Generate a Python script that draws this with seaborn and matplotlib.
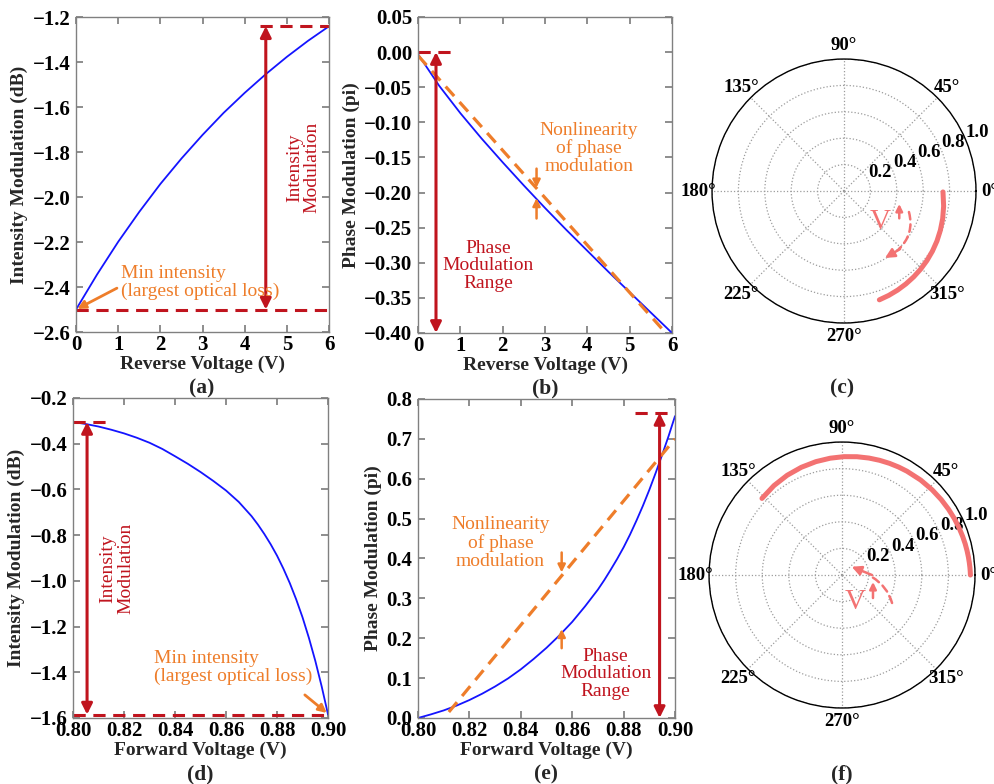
import numpy as np
import matplotlib
matplotlib.use("Agg")
import matplotlib.pyplot as plt
import seaborn as sns

# ---------------- data ----------------
# Reverse-bias sweep (panels a, b, c)
reverse_voltage = [0.0, 0.5, 1.0, 1.5, 2.0, 2.5, 3.0, 3.5, 4.0, 4.5, 5.0, 5.5, 6.0]
reverse_intensity_db = [-2.500, -2.344, -2.199, -2.066, -1.942, -1.829, -1.724,
                        -1.626, -1.537, -1.454, -1.377, -1.306, -1.241]
reverse_phase_pi = [-0.003, -0.048, -0.087, -0.123, -0.157, -0.190, -0.222,
                    -0.253, -0.283, -0.313, -0.342, -0.371, -0.400]
reverse_fit_voltage = [0.0, 6.0]
reverse_fit_phase = [-0.005, -0.410]

# Forward-bias sweep (panels d, e, f)
forward_voltage = [0.800, 0.805, 0.810, 0.815, 0.820, 0.825, 0.830, 0.835, 0.840,
                   0.845, 0.850, 0.855, 0.860, 0.865, 0.870, 0.8725, 0.875, 0.8775,
                   0.880, 0.8825, 0.885, 0.8875, 0.890, 0.8925, 0.895, 0.8975, 0.900]
forward_intensity_db = [-0.305, -0.314, -0.325, -0.339, -0.355, -0.374, -0.396,
                        -0.423, -0.455, -0.488, -0.524, -0.563, -0.605, -0.655,
                        -0.717, -0.754, -0.795, -0.840, -0.890, -0.947, -1.010,
                        -1.081, -1.160, -1.250, -1.350, -1.462, -1.585]
forward_phase_pi = [0.000, 0.009, 0.019, 0.031, 0.045, 0.061, 0.079, 0.099, 0.122,
                    0.148, 0.176, 0.207, 0.241, 0.280, 0.322, 0.346, 0.372, 0.399,
                    0.428, 0.460, 0.495, 0.532, 0.572, 0.615, 0.660, 0.707, 0.757]
forward_fit_voltage = [0.812, 0.900]
forward_fit_phase = [0.015, 0.700]

theta_labels = ["0°", "45°", "90°", "135°", "180°", "225°", "270°", "315°"]
radius_ticks = [0.2, 0.4, 0.6, 0.8, 1.0]

# ---------------- style ----------------
BLUE = "#1414ff"
RED = "#c0141e"
ORANGE = "#ee7d2a"
SALMON = "#f37272"
GRAY = "#808080"
DASH = (0, (4, 2.5))

sns.set_theme(style="ticks", rc={
    "axes.edgecolor": GRAY,
    "axes.linewidth": 1.0,
    "xtick.direction": "in",
    "ytick.direction": "in",
    "xtick.top": True,
    "ytick.right": True,
    "xtick.color": GRAY,
    "ytick.color": GRAY,
    "xtick.labelcolor": "black",
    "ytick.labelcolor": "black",
    "xtick.major.size": 5,
    "ytick.major.size": 5,
    "xtick.major.pad": 2.5,
    "ytick.major.pad": 4,
})
plt.rcParams["font.family"] = ["Liberation Serif", "DejaVu Serif"]
plt.rcParams["font.weight"] = "bold"
plt.rcParams["axes.labelweight"] = "bold"
plt.rcParams["axes.labelsize"] = 14
plt.rcParams["xtick.labelsize"] = 15
plt.rcParams["ytick.labelsize"] = 15

fig = plt.figure(figsize=(9.95, 7.84), dpi=100)

ax_a = fig.add_axes([0.0764, 0.5765, 0.2543, 0.4018])
ax_b = fig.add_axes([0.4201, 0.5753, 0.2553, 0.4031])
ax_d = fig.add_axes([0.0734, 0.0842, 0.2563, 0.4082])
ax_e = fig.add_axes([0.4201, 0.0842, 0.2583, 0.4069])
ax_c = fig.add_axes([0.7156, 0.5880, 0.2653, 0.3367], projection="polar")
ax_f = fig.add_axes([0.7126, 0.0969, 0.2673, 0.3393], projection="polar")


def note(ax, text, x, y, color, **kw):
    ax.text(x, y, text, color=color, fontsize=14, fontweight="normal",
            linespacing=1.05, **kw)


def double_arrow(ax, x, y0, y1):
    ax.annotate("", xy=(x, y1), xytext=(x, y0),
                arrowprops=dict(arrowstyle="<|-|>", color=RED, lw=2.2,
                                mutation_scale=16, shrinkA=0, shrinkB=0))


def small_arrow(ax, x0, y0, x1, y1, color=ORANGE, lw=1.8, scale=11):
    ax.annotate("", xy=(x1, y1), xytext=(x0, y0),
                arrowprops=dict(arrowstyle="-|>", color=color, lw=lw,
                                mutation_scale=scale, shrinkA=0, shrinkB=0))


# ---------------- (a) intensity vs reverse voltage ----------------
sns.lineplot(x=reverse_voltage, y=reverse_intensity_db, ax=ax_a, color=BLUE,
             lw=1.3, sort=False)
ax_a.set_xlim(0, 6)
ax_a.set_ylim(-2.6, -1.2)
ax_a.set_xticks(np.arange(0, 7, 1))
ax_a.set_yticks(np.arange(-2.6, -1.19, 0.2))
ax_a.hlines(reverse_intensity_db[0], 0, 6, colors=RED, lw=2.2, linestyles=DASH,
            clip_on=False)
ax_a.hlines(reverse_intensity_db[-1], 4.37, 6, colors=RED, lw=2.2, linestyles=DASH,
            clip_on=False)
double_arrow(ax_a, 4.5, reverse_intensity_db[0], reverse_intensity_db[-1])
note(ax_a, "Intensity\nModulation", 5.39, -1.87, RED, rotation=90,
     ha="center", va="center", multialignment="center")
note(ax_a, "Min intensity\n(largest optical loss)", 1.07, -2.378, ORANGE,
     ha="left", va="center")
small_arrow(ax_a, 0.97, -2.405, 0.03, -2.497, lw=2.0, scale=12)
ax_a.set_xlabel("Reverse Voltage (V)", labelpad=0)
ax_a.set_ylabel("Intensity Modulation (dB)", labelpad=3)

# ---------------- (b) phase vs reverse voltage ----------------
sns.lineplot(x=reverse_voltage, y=reverse_phase_pi, ax=ax_b, color=BLUE,
             lw=1.3, sort=False)
sns.lineplot(x=reverse_fit_voltage, y=reverse_fit_phase, ax=ax_b, color=ORANGE,
             lw=2.3, linestyle=DASH, sort=False)
ax_b.set_xlim(0, 6)
ax_b.set_ylim(-0.40, 0.05)
ax_b.set_xticks(np.arange(0, 7, 1))
ax_b.set_yticks(np.arange(-0.40, 0.051, 0.05))
ax_b.hlines(0.0, 0, 0.87, colors=RED, lw=2.2, linestyles=DASH)
double_arrow(ax_b, 0.425, -0.40, 0.0)
note(ax_b, "Phase\nModulation\nRange", 1.65, -0.3045, RED,
     ha="center", va="center", multialignment="center")
note(ax_b, "Nonlinearity\nof phase\nmodulation", 4.04, -0.137, ORANGE,
     ha="center", va="center", multialignment="center")
small_arrow(ax_b, 2.80, -0.166, 2.80, -0.193)
small_arrow(ax_b, 2.80, -0.237, 2.80, -0.208)
ax_b.set_xlabel("Reverse Voltage (V)", labelpad=0)
ax_b.set_ylabel("Phase Modulation (pi)", labelpad=3)

# ---------------- (d) intensity vs forward voltage ----------------
sns.lineplot(x=forward_voltage, y=forward_intensity_db, ax=ax_d, color=BLUE,
             lw=1.3, sort=False)
ax_d.set_xlim(0.80, 0.90)
ax_d.set_ylim(-1.6, -0.2)
ax_d.set_xticks(np.arange(0.80, 0.901, 0.02))
ax_d.set_yticks(np.arange(-1.6, -0.19, 0.2))
ax_d.hlines(forward_intensity_db[-1], 0.80, 0.90, colors=RED, lw=2.2,
            linestyles=DASH, clip_on=False)
ax_d.hlines(forward_intensity_db[0], 0.80, 0.8137, colors=RED, lw=2.2,
            linestyles=DASH)
double_arrow(ax_d, 0.8055, forward_intensity_db[-1], forward_intensity_db[0])
note(ax_d, "Intensity\nModulation", 0.8171, -0.945, RED, rotation=90,
     ha="center", va="center", multialignment="center")
note(ax_d, "Min intensity\n(largest optical loss)", 0.8316, -1.379, ORANGE,
     ha="left", va="center")
small_arrow(ax_d, 0.8909, -1.499, 0.8995, -1.578, lw=2.0, scale=12)
ax_d.set_xlabel("Forward Voltage (V)", labelpad=0)
ax_d.set_ylabel("Intensity Modulation (dB)", labelpad=3)

# ---------------- (e) phase vs forward voltage ----------------
sns.lineplot(x=forward_voltage, y=forward_phase_pi, ax=ax_e, color=BLUE,
             lw=1.3, sort=False)
sns.lineplot(x=forward_fit_voltage, y=forward_fit_phase, ax=ax_e, color=ORANGE,
             lw=2.3, linestyle=DASH, sort=False)
ax_e.set_xlim(0.80, 0.90)
ax_e.set_ylim(0.0, 0.8)
ax_e.set_xticks(np.arange(0.80, 0.901, 0.02))
ax_e.set_yticks(np.arange(0.0, 0.81, 0.1))
ax_e.hlines(0.765, 0.8844, 0.90, colors=RED, lw=2.2, linestyles=DASH,
            clip_on=False)
double_arrow(ax_e, 0.894, 0.0, 0.765)
note(ax_e, "Phase\nModulation\nRange", 0.873, 0.111, RED,
     ha="center", va="center", multialignment="center")
note(ax_e, "Nonlinearity\nof phase\nmodulation", 0.8321, 0.4386, ORANGE,
     ha="center", va="center", multialignment="center")
small_arrow(ax_e, 0.8559, 0.415, 0.8559, 0.365)
small_arrow(ax_e, 0.8559, 0.175, 0.8559, 0.223)
ax_e.set_xlabel("Forward Voltage (V)", labelpad=0)
ax_e.set_ylabel("Phase Modulation (pi)", labelpad=3)

for ax in (ax_a, ax_b, ax_d, ax_e):
    for side in ("top", "right", "bottom", "left"):
        ax.spines[side].set_visible(True)
        ax.spines[side].set_color(GRAY)


# ---------------- (c), (f) constellation in the complex plane ----------------
def polar_panel(axp, intensity_db, phase_pi):
    radius = 10 ** (np.asarray(intensity_db) / 20.0)
    theta = np.asarray(phase_pi) * np.pi
    sns.lineplot(x=theta, y=radius, ax=axp, color=SALMON, lw=3.6, sort=False)
    axp.set_xlabel("")
    axp.set_ylabel("")
    axp.set_ylim(0, 1)
    axp.set_yticks(radius_ticks)
    axp.set_yticklabels([f"{v:.1f}" for v in radius_ticks], fontsize=13.5,
                        fontweight="bold")
    axp.set_rlabel_position(22.5)
    axp.set_thetagrids(np.arange(0, 360, 45), theta_labels, fontsize=13.5,
                       fontweight="bold")
    axp.grid(True, color="#9c9c9c", linestyle=":", linewidth=0.9)
    axp.spines["polar"].set_color("black")
    axp.spines["polar"].set_linewidth(1.0)
    axp.tick_params(axis="both", length=0)
    axp.tick_params(axis="x", pad=3)
    axp.set_facecolor("white")


polar_panel(ax_c, reverse_intensity_db, reverse_phase_pi)
polar_panel(ax_f, forward_intensity_db, forward_phase_pi)

deg = np.pi / 180
# rotation sense for (c): clockwise as the reverse voltage grows
ax_c.text(-40.5 * deg, 0.365, "V", color=SALMON, fontsize=21, fontweight="normal",
          ha="center", va="center")
small_arrow(ax_c, -26.3 * deg, 0.467, -13.2 * deg, 0.430, color=SALMON, lw=1.8,
            scale=10)
ax_c.annotate("", xy=(-47.5 * deg, 0.606), xytext=(-17.9 * deg, 0.517),
              arrowprops=dict(arrowstyle="-", color=SALMON, lw=1.8,
                              linestyle=(0, (3, 2)), shrinkA=0, shrinkB=0,
                              connectionstyle="arc3,rad=-0.3"))
small_arrow(ax_c, -46.0 * deg, 0.611, -58.5 * deg, 0.595, color=SALMON, lw=1.8,
            scale=14)

# rotation sense for (f): counter-clockwise as the forward voltage grows
ax_f.text(-64.5 * deg, 0.227, "V", color=SALMON, fontsize=21, fontweight="normal",
          ha="center", va="center")
small_arrow(ax_f, -36.6 * deg, 0.290, -12.7 * deg, 0.239, color=SALMON, lw=1.8,
            scale=10)
ax_f.annotate("", xy=(-3.8 * deg, 0.226), xytext=(-29.2 * deg, 0.431),
              arrowprops=dict(arrowstyle="-", color=SALMON, lw=1.8,
                              linestyle=(0, (3, 2)), shrinkA=0, shrinkB=0,
                              connectionstyle="arc3,rad=0.2"))
small_arrow(ax_f, 0.0, 0.2256, 40.6 * deg, 0.096, color=SALMON, lw=1.8, scale=14)

# ---------------- panel letters ----------------
for x, y, lab in [(0.203, 0.5045, "(a)"), (0.548, 0.5045, "(b)"), (0.846, 0.5045, "(c)"),
                  (0.201, 0.0125, "(d)"), (0.549, 0.0125, "(e)"), (0.846, 0.0125, "(f)")]:
    fig.text(x, y, lab, fontsize=15.5, fontweight="bold", ha="center", va="center")

fig.savefig("out.png", dpi=100, facecolor="white")
